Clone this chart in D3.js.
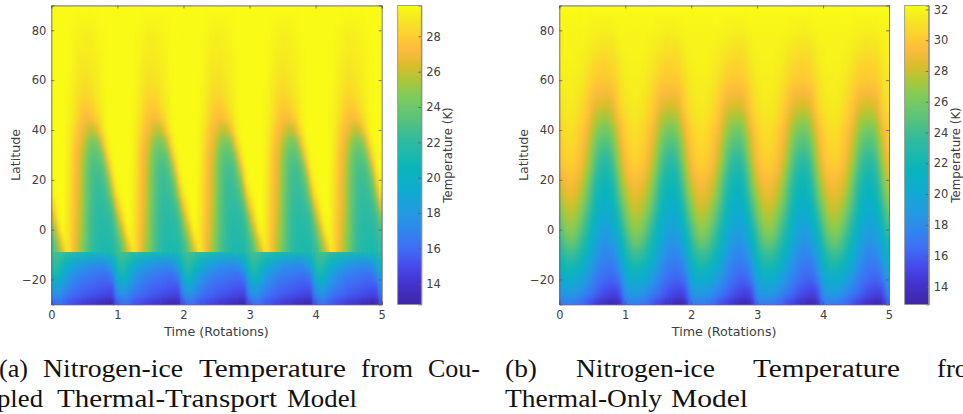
<!DOCTYPE html>
<html>
<head>
<meta charset="utf-8">
<script src="https://cdn.jsdelivr.net/npm/d3@7"></script>
<style>
  body { margin: 0; background: #fff; }
  text { font-family: "DejaVu Sans", sans-serif; }
</style>
</head>
<body>
<svg id="chart" width="963" height="414"></svg>
<script>
// colormap
const cmapPos = [0, .07, .125, .19, .25, .3, .375, .45, .5, .55, .6, .7, .75, .8, .85, .9, .95, 1];
const cmapColors = ["#3E26A8", "#4433CE", "#4748EB", "#3F6FF6", "#2F87EE", "#2698E3", "#10AAD2", "#08B4BC", "#1AB8AE", "#2FBBA0", "#4DC085", "#81CC59", "#ABC739", "#DCBD29", "#FCBB3E", "#FECE2F", "#F5E623", "#F9FB15"];

const rotations = [0, 1, 2, 3, 4];
const phases = [.025, .075, .125, .175, .225, .275, .325, .375, .425, .475, .525, .575, .625, .675, .725, .775, .825, .875, .925, .975];
const timeTicks = [0, 1, 2, 3, 4, 5];
const latTicks = [-20, 0, 20, 40, 60, 80];

// coupled model, one rotation, top row first
const latsA = [90, 85, 80, 75, 70, 65, 60, 55, 50, 45, 40, 35, 30, 25, 20, 15, 10, 5, 0, -5, -8, -10, -12, -15, -20, -25, -30];
const tempA = [
  [29.7, 29.7, 29.7, 29.7, 29.7, 29.7, 29.7, 29.7, 29.7, 29.7, 29.7, 29.7, 29.7, 29.7, 29.7, 29.7, 29.7, 29.7, 29.7, 29.7],
  [29.7, 29.7, 29.7, 29.7, 29.7, 29.7, 29.7, 29.6, 29.6, 29.6, 29.6, 29.6, 29.6, 29.6, 29.6, 29.7, 29.7, 29.7, 29.7, 29.7],
  [29.7, 29.7, 29.7, 29.7, 29.7, 29.7, 29.6, 29.5, 29.4, 29.3, 29.3, 29.3, 29.4, 29.5, 29.6, 29.6, 29.7, 29.7, 29.7, 29.7],
  [29.7, 29.7, 29.7, 29.7, 29.7, 29.6, 29.5, 29.4, 29.3, 29.2, 29.2, 29.2, 29.3, 29.4, 29.5, 29.6, 29.7, 29.7, 29.7, 29.7],
  [29.7, 29.7, 29.7, 29.7, 29.7, 29.6, 29.5, 29.3, 29.1, 29.1, 29.1, 29.1, 29.2, 29.3, 29.4, 29.5, 29.6, 29.7, 29.7, 29.7],
  [29.7, 29.7, 29.7, 29.7, 29.7, 29.6, 29.4, 29.2, 29.0, 28.9, 28.9, 29.0, 29.1, 29.2, 29.3, 29.5, 29.6, 29.7, 29.7, 29.7],
  [29.7, 29.7, 29.7, 29.7, 29.7, 29.5, 29.3, 29.1, 28.9, 28.7, 28.7, 28.8, 28.9, 29.1, 29.3, 29.5, 29.6, 29.7, 29.7, 29.7],
  [29.7, 29.7, 29.7, 29.7, 29.6, 29.5, 29.2, 28.9, 28.6, 28.4, 28.4, 28.5, 28.7, 29.0, 29.2, 29.4, 29.6, 29.7, 29.7, 29.7],
  [29.7, 29.7, 29.7, 29.7, 29.6, 29.4, 29.1, 28.7, 28.3, 28.0, 27.9, 28.0, 28.3, 28.7, 29.0, 29.3, 29.6, 29.7, 29.7, 29.7],
  [29.7, 29.7, 29.7, 29.7, 29.6, 29.3, 29.0, 28.5, 27.9, 27.5, 27.3, 27.3, 27.6, 28.1, 28.6, 29.2, 29.5, 29.7, 29.7, 29.7],
  [29.7, 29.7, 29.7, 29.7, 29.5, 29.2, 28.7, 28.0, 27.4, 27.0, 26.5, 25.9, 25.8, 26.4, 27.5, 28.7, 29.4, 29.7, 29.7, 29.7],
  [29.7, 29.7, 29.7, 29.7, 29.5, 29.1, 28.4, 27.6, 27.0, 26.4, 25.4, 24.6, 24.3, 24.4, 25.0, 27.0, 28.8, 29.6, 29.7, 29.7],
  [29.7, 29.7, 29.7, 29.7, 29.5, 29.0, 28.2, 27.3, 26.7, 25.9, 24.7, 23.9, 23.5, 23.4, 23.7, 24.6, 27.0, 29.0, 29.6, 29.7],
  [29.7, 29.7, 29.7, 29.7, 29.4, 28.9, 28.1, 27.2, 26.6, 25.5, 24.4, 23.5, 22.9, 22.8, 22.9, 23.4, 24.7, 27.2, 29.3, 29.7],
  [29.7, 29.7, 29.7, 29.7, 29.4, 28.8, 28.0, 27.1, 26.5, 25.4, 24.3, 23.4, 22.8, 22.5, 22.5, 22.8, 23.5, 25.0, 28.0, 29.5],
  [29.4, 29.7, 29.7, 29.7, 29.3, 28.8, 27.9, 27.0, 26.4, 25.3, 24.2, 23.3, 22.7, 22.3, 22.3, 22.4, 22.8, 23.7, 26.0, 28.6],
  [28.3, 29.4, 29.7, 29.7, 29.3, 28.7, 27.8, 27.0, 26.3, 25.2, 24.1, 23.2, 22.6, 22.2, 22.1, 22.1, 22.3, 22.8, 23.7, 26.5],
  [26.5, 28.4, 29.6, 29.7, 29.3, 28.6, 27.7, 26.9, 26.1, 25.1, 24.0, 23.1, 22.5, 22.1, 21.9, 21.9, 22.0, 22.2, 22.7, 24.1],
  [24.5, 26.3, 28.6, 29.6, 29.2, 28.5, 27.6, 26.8, 25.9, 25.0, 23.9, 23.0, 22.4, 22.0, 21.7, 21.7, 21.7, 21.9, 22.2, 23.0],
  [23.2, 24.6, 26.3, 28.5, 29.3, 28.5, 27.5, 26.7, 25.7, 24.8, 23.8, 22.9, 22.3, 21.9, 21.6, 21.5, 21.5, 21.6, 21.8, 22.4],
  [22.7, 23.8, 25.2, 26.7, 28.7, 28.7, 27.5, 26.6, 25.5, 24.6, 23.6, 22.8, 22.2, 21.8, 21.5, 21.4, 21.3, 21.4, 21.6, 22.1],
  [22.6, 22.7, 22.6, 22.4, 22.2, 22.0, 21.8, 21.6, 21.4, 21.3, 21.2, 21.2, 21.1, 21.1, 21.0, 21.0, 21.0, 21.1, 21.3, 21.9],
  [22.2, 22.3, 22.0, 21.5, 21.0, 20.5, 20.0, 19.6, 19.2, 19.0, 18.8, 18.6, 18.5, 18.4, 18.3, 18.3, 18.4, 18.9, 19.8, 21.0],
  [21.5, 21.9, 21.3, 20.5, 19.7, 19.1, 18.6, 18.2, 17.9, 17.6, 17.4, 17.2, 17.1, 17.0, 16.9, 16.9, 17.0, 17.6, 18.6, 20.3],
  [19.5, 20.2, 19.8, 19.0, 18.1, 17.6, 17.2, 16.9, 16.6, 16.4, 16.3, 16.2, 16.1, 16.0, 15.9, 15.8, 15.8, 15.9, 16.4, 18.2],
  [17.6, 18.0, 17.9, 17.3, 16.8, 16.5, 16.2, 16.0, 15.9, 15.7, 15.6, 15.5, 15.4, 15.3, 15.2, 15.1, 15.0, 14.9, 15.0, 16.8],
  [15.7, 16.0, 16.0, 15.8, 15.5, 15.2, 15.0, 14.8, 14.6, 14.4, 14.2, 14.0, 13.8, 13.6, 13.4, 13.2, 13.0, 12.9, 12.9, 15.0]
];
const rangeA = [12.83, 29.75];
const barTicksA = [14, 16, 18, 20, 22, 24, 26, 28];

// thermal only model
const latsB = [90, 85, 80, 75, 70, 65, 60, 55, 50, 45, 40, 35, 30, 25, 20, 15, 10, 5, 0, -5, -10, -15, -20, -25, -30];
const tempB = [
  [32.2, 32.2, 32.2, 32.2, 32.2, 32.2, 32.2, 32.2, 32.2, 32.2, 32.2, 32.2, 32.2, 32.2, 32.2, 32.2, 32.2, 32.2, 32.2, 32.2],
  [32.1, 32.1, 32.1, 32.1, 32.1, 32.1, 32.1, 32.1, 32.1, 32.0, 32.0, 32.0, 32.0, 32.0, 32.0, 32.0, 32.0, 32.1, 32.1, 32.1],
  [32.0, 32.0, 32.0, 32.0, 32.0, 32.0, 32.0, 32.0, 31.9, 31.9, 31.8, 31.8, 31.7, 31.7, 31.7, 31.7, 31.8, 31.9, 32.0, 32.0],
  [31.9, 31.9, 31.9, 31.9, 31.9, 31.9, 31.9, 31.8, 31.7, 31.6, 31.5, 31.4, 31.3, 31.3, 31.3, 31.3, 31.4, 31.6, 31.8, 31.9],
  [31.8, 31.9, 31.9, 31.9, 31.9, 31.8, 31.7, 31.6, 31.5, 31.3, 31.1, 31.0, 30.9, 30.8, 30.8, 30.9, 31.0, 31.3, 31.6, 31.8],
  [31.7, 31.8, 31.8, 31.8, 31.8, 31.7, 31.6, 31.4, 31.2, 31.0, 30.7, 30.5, 30.4, 30.4, 30.4, 30.5, 30.7, 31.0, 31.4, 31.6],
  [31.6, 31.7, 31.7, 31.7, 31.7, 31.6, 31.4, 31.2, 30.9, 30.6, 30.3, 30.1, 30.0, 30.0, 30.0, 30.1, 30.3, 30.7, 31.1, 31.4],
  [31.4, 31.6, 31.6, 31.6, 31.5, 31.4, 31.2, 30.9, 30.5, 30.0, 29.6, 29.3, 29.3, 29.2, 29.2, 29.3, 29.6, 30.2, 30.8, 31.2],
  [31.2, 31.4, 31.5, 31.5, 31.4, 31.2, 30.9, 30.5, 30.1, 29.5, 28.9, 28.6, 28.4, 28.3, 28.3, 28.5, 29.0, 29.9, 30.6, 31.0],
  [30.9, 31.2, 31.3, 31.3, 31.2, 31.0, 30.6, 30.2, 29.6, 28.9, 28.1, 27.6, 27.3, 27.2, 27.2, 27.5, 28.1, 29.1, 30.0, 30.6],
  [30.5, 30.9, 31.0, 31.0, 30.8, 30.5, 30.1, 29.6, 29.0, 28.2, 27.3, 26.6, 26.1, 25.9, 25.9, 26.3, 27.2, 28.2, 29.2, 30.0],
  [30.2, 30.6, 30.8, 30.8, 30.6, 30.3, 29.8, 29.2, 28.5, 27.6, 26.5, 25.6, 25.0, 24.8, 24.8, 25.2, 26.2, 27.4, 28.7, 29.6],
  [29.8, 30.3, 30.5, 30.5, 30.3, 30.0, 29.5, 28.8, 28.0, 26.9, 25.7, 24.7, 24.0, 23.7, 23.7, 24.2, 25.3, 26.7, 28.1, 29.1],
  [29.3, 29.9, 30.1, 30.1, 29.9, 29.6, 29.1, 28.3, 27.4, 26.2, 24.9, 23.8, 23.1, 22.8, 22.8, 23.2, 24.3, 25.8, 27.4, 28.6],
  [28.6, 29.2, 29.4, 29.4, 29.2, 28.9, 28.4, 27.6, 26.5, 25.2, 23.9, 23.0, 22.4, 22.1, 22.1, 22.5, 23.4, 24.9, 26.6, 27.8],
  [27.8, 28.5, 28.9, 28.9, 28.7, 28.3, 27.7, 26.9, 25.8, 24.5, 23.3, 22.4, 21.8, 21.5, 21.5, 21.9, 22.7, 24.0, 25.6, 26.9],
  [26.9, 27.8, 28.2, 28.2, 28.0, 27.6, 26.9, 26.0, 25.0, 23.8, 22.6, 21.7, 21.1, 20.8, 20.7, 21.0, 21.8, 23.0, 24.5, 25.8],
  [26.0, 26.9, 27.4, 27.5, 27.2, 26.7, 26.0, 25.0, 24.0, 22.9, 21.8, 21.0, 20.4, 20.1, 20.0, 20.3, 21.0, 22.0, 23.4, 24.8],
  [24.9, 25.9, 26.6, 26.7, 26.4, 25.8, 25.0, 24.0, 23.0, 22.0, 21.0, 20.2, 19.6, 19.3, 19.2, 19.4, 20.1, 21.0, 22.2, 23.6],
  [23.7, 24.7, 25.3, 25.5, 25.2, 24.6, 23.8, 23.0, 22.1, 21.1, 20.2, 19.4, 18.9, 18.5, 18.4, 18.6, 19.1, 19.9, 21.0, 22.4],
  [22.5, 23.3, 23.8, 23.9, 23.7, 23.2, 22.6, 21.9, 21.0, 20.1, 19.3, 18.6, 18.1, 17.7, 17.6, 17.7, 18.1, 18.8, 19.9, 21.2],
  [21.2, 21.9, 22.2, 22.2, 22.1, 21.7, 21.2, 20.6, 19.9, 19.1, 18.4, 17.8, 17.3, 17.0, 16.9, 16.9, 17.1, 17.6, 18.6, 19.9],
  [19.9, 20.4, 20.6, 20.6, 20.4, 20.1, 19.7, 19.2, 18.6, 18.0, 17.5, 17.0, 16.6, 16.4, 16.2, 16.1, 16.2, 16.5, 17.4, 18.8],
  [18.6, 19.0, 19.1, 19.0, 18.8, 18.6, 18.2, 17.8, 17.4, 16.9, 16.5, 16.1, 15.8, 15.5, 15.3, 15.1, 15.0, 15.1, 15.9, 17.6],
  [16.9, 17.2, 17.2, 17.1, 16.9, 16.7, 16.4, 16.1, 15.7, 15.3, 14.9, 14.5, 14.1, 13.7, 13.4, 13.1, 13.0, 13.1, 14.2, 16.0]
];
const rangeB = [12.83, 32.26];
const barTicksB = [14, 16, 18, 20, 22, 24, 26, 28, 30, 32];

const captionA = [["(a)", "Nitrogen-ice", "Temperature", "from", "Cou-"], ["pled", "Thermal-Transport", "Model"]];
const captionB = [["(b)", "Nitrogen-ice", "Temperature", "from"], ["Thermal-Only", "Model"]];

const svg = d3.select("#chart");
const frameColor = "#5a5a5a";
const textColor = "#404040";
const plotTop = 5.4, plotBottom = 304.4;

const defs = svg.append("defs");
defs.append("filter").attr("id", "soften")
  .attr("x", "-5%").attr("y", "-5%").attr("width", "110%").attr("height", "110%")
  .attr("color-interpolation-filters", "sRGB")
  .append("feGaussianBlur").attr("stdDeviation", "1.7 4");

const grad = defs.append("linearGradient").attr("id", "cmap")
  .attr("x1", 0).attr("x2", 0).attr("y1", 1).attr("y2", 0);
cmapPos.forEach((p, i) => grad.append("stop").attr("offset", p).attr("stop-color", cmapColors[i]));

function drawPanel(id, left, right, barLeft, barRight, lats, temps, range, barTicks, splitLat) {
  const x = d3.scaleLinear().domain([0, 5]).range([left, right]);
  const y = d3.scaleLinear().domain([-30, 90]).range([plotBottom, plotTop]);
  const color = d3.scaleLinear()
    .domain(cmapPos.map(p => range[0] + p * (range[1] - range[0])))
    .range(cmapColors);

  const step = phases[1] - phases[0];
  const edgeTop = i => i === 0 ? lats[0] : (lats[i] + lats[i - 1]) / 2;
  const edgeBot = i => i === lats.length - 1 ? lats[i] : (lats[i] + lats[i + 1]) / 2;

  const cells = [];
  rotations.forEach(r => {
    lats.forEach((lat, i) => {
      phases.forEach((p, j) => {
        cells.push({ t0: r + p - step / 2, t1: r + p + step / 2, top: edgeTop(i), bot: edgeBot(i), temp: temps[i][j] });
      });
    });
  });

  function addCells(g, list) {
    g.selectAll("rect")
      .data(list)
      .enter()
      .append("rect")
      .attr("x", d => x(d.t0))
      .attr("y", d => y(d.top))
      .attr("width", d => x(d.t1) - x(d.t0) + 0.4)
      .attr("height", d => y(d.bot) - y(d.top) + 0.4)
      .attr("fill", d => color(d.temp));
  }

  // sharp cells underneath so the blur doesn't fade at the edges
  addCells(svg.append("g"), cells);

  // the coupled panel has a hard front, so each side gets blurred on its own
  const parts = splitLat === null
    ? [{ hi: 90, lo: -30 }]
    : [{ hi: 90, lo: splitLat }, { hi: splitLat, lo: -30 }];
  parts.forEach((part, k) => {
    const clipId = `clip-${id}-${k}`;
    defs.append("clipPath").attr("id", clipId).append("rect")
      .attr("x", left).attr("y", y(part.hi))
      .attr("width", right - left).attr("height", y(part.lo) - y(part.hi));
    const g = svg.append("g").attr("clip-path", `url(#${clipId})`)
      .append("g").attr("filter", "url(#soften)");
    addCells(g, cells.filter(d => d.bot >= part.lo && d.top <= part.hi));
  });

  // Axes, ticks point inwards on all four sides
  const styleAxis = g => {
    g.selectAll("path.domain").attr("stroke", frameColor).attr("stroke-width", 0.8);
    g.selectAll(".tick line").attr("stroke", frameColor).attr("stroke-width", 0.8);
    g.selectAll("text").attr("fill", textColor).style("font-size", "11.5px");
  };
  svg.append("g").attr("transform", `translate(0,${plotBottom})`)
    .call(d3.axisBottom(x).tickValues(timeTicks).tickFormat(d3.format("d")).tickSize(-3).tickPadding(6)).call(styleAxis);
  svg.append("g").attr("transform", `translate(0,${plotTop})`)
    .call(d3.axisTop(x).tickValues(timeTicks).tickFormat("").tickSize(-3)).call(styleAxis);
  svg.append("g").attr("transform", `translate(${left},0)`)
    .call(d3.axisLeft(y).tickValues(latTicks).tickFormat(d3.format("d")).tickSize(-3).tickPadding(5)).call(styleAxis);
  svg.append("g").attr("transform", `translate(${right},0)`)
    .call(d3.axisRight(y).tickValues(latTicks).tickFormat("").tickSize(-3)).call(styleAxis);

  svg.append("text")
    .attr("x", (left + right) / 2).attr("y", 335.5)
    .attr("text-anchor", "middle").attr("fill", textColor)
    .style("font-size", "12.7px").text("Time (Rotations)");
  svg.append("text")
    .attr("transform", `translate(${left - 31},155) rotate(-90)`)
    .attr("text-anchor", "middle").attr("fill", textColor)
    .style("font-size", "12.7px").text("Latitude");

  // Colorbar
  const barY = d3.scaleLinear().domain(range).range([plotBottom, plotTop]);
  svg.append("rect")
    .attr("x", barLeft).attr("y", plotTop)
    .attr("width", barRight - barLeft).attr("height", plotBottom - plotTop)
    .attr("fill", "url(#cmap)");
  svg.append("g").attr("transform", `translate(${barRight},0)`)
    .call(d3.axisRight(barY).tickValues(barTicks).tickFormat(d3.format("d")).tickSize(-3).tickPadding(5)).call(styleAxis);
  svg.append("rect")
    .attr("x", barLeft).attr("y", plotTop)
    .attr("width", barRight - barLeft).attr("height", plotBottom - plotTop)
    .attr("fill", "none").attr("stroke", "#8c8c80").attr("stroke-width", 0.8);
  svg.append("text")
    .attr("transform", `translate(${barRight + 31},155) rotate(-90)`)
    .attr("text-anchor", "middle").attr("fill", textColor)
    .style("font-size", "11.8px").text("Temperature (K)");
}

drawPanel("a", 51.3, 381.7, 397.7, 421.3, latsA, tempA, rangeA, barTicksA, -9);
drawPanel("b", 559.3, 889, 904.7, 928.7, latsB, tempB, rangeB, barTicksB, null);

// Captions: justified lines, so each word is placed and fitted on its own
function caption(lines, starts, widths) {
  lines.forEach((words, l) => {
    words.forEach((w, i) => {
      svg.append("text")
        .attr("x", starts[l][i]).attr("y", l === 0 ? 377 : 407)
        .attr("textLength", widths[l][i]).attr("lengthAdjust", "spacingAndGlyphs")
        .attr("fill", "#111")
        .style("font-family", "'Liberation Serif', serif").style("font-size", "26px")
        .text(w);
    });
  });
}
caption(captionA, [[-1, 43, 199, 361, 428], [-3, 57, 287]], [[29, 140, 147, 52, 52], [46, 220, 70]]);
caption(captionB, [[505, 576, 753, 937], [505, 671]], [[32, 139, 147, 52], [157, 77]]);
</script>
</body>
</html>
